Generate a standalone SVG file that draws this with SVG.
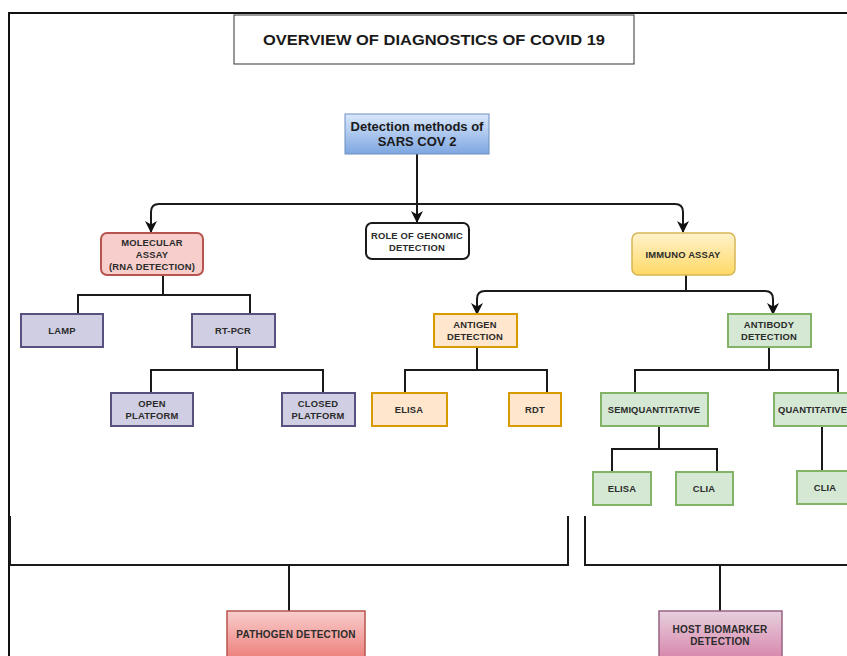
<svg xmlns="http://www.w3.org/2000/svg" width="847" height="656" viewBox="0 0 847 656">
<defs>
<linearGradient id="gBlue" x1="0" y1="0" x2="0" y2="1"><stop offset="0" stop-color="#dae8fc"/><stop offset="1" stop-color="#7ea6e0"/></linearGradient>
<linearGradient id="gYellow" x1="0" y1="0" x2="0" y2="1"><stop offset="0" stop-color="#fff2cc"/><stop offset="1" stop-color="#ffd966"/></linearGradient>
<linearGradient id="gRed" x1="0" y1="0" x2="0" y2="1"><stop offset="0" stop-color="#f8cecc"/><stop offset="1" stop-color="#ea6b66"/></linearGradient>
<linearGradient id="gPink" x1="0" y1="0" x2="0" y2="1"><stop offset="0" stop-color="#e6d0de"/><stop offset="1" stop-color="#d5739d"/></linearGradient>
<marker id="arr" markerWidth="12" markerHeight="12" refX="11" refY="6" orient="auto" markerUnits="userSpaceOnUse"><path d="M0,0 L12,6 L0,12 L3.5,6 Z" fill="#111"/></marker>
</defs>
<style>
.t{font-family:"Liberation Sans",Arial,sans-serif;font-weight:bold;font-size:9.4px;fill:#2b2b2b;text-anchor:middle;letter-spacing:0.2px}
.c{fill:none;stroke:#1a1a1a;stroke-width:2}
.purple{fill:#d0cee2;stroke:#56517e;stroke-width:2}
.orange{fill:#ffe6cc;stroke:#d79b00;stroke-width:2}
.green{fill:#d5e8d4;stroke:#82b366;stroke-width:2}
</style>
<rect width="847" height="656" fill="#fff"/>
<path d="M9,700 V13 H860" fill="none" stroke="#111" stroke-width="2"/>

<g id="title">
<rect x="234" y="15" width="400" height="49" fill="#fff" stroke="#333" stroke-width="1"/>
<text x="434" y="45" font-family="Liberation Sans,Arial,sans-serif" font-weight="bold" font-size="15" fill="#1a1a1a" text-anchor="middle" textLength="342" lengthAdjust="spacingAndGlyphs">OVERVIEW OF DIAGNOSTICS OF COVID 19</text>
</g>

<g id="connectors">
<path class="c" d="M417,154 V222" marker-end="url(#arr)"/>
<path class="c" d="M417,204 H159 Q151,204 151,212 V232" marker-end="url(#arr)"/>
<path class="c" d="M417,204 H675 Q683,204 683,212 V232" marker-end="url(#arr)"/>
<path class="c" d="M686,275 V291"/>
<path class="c" d="M686,291 H485 Q477,291 477,299 V314" marker-end="url(#arr)"/>
<path class="c" d="M686,291 H765 Q773,291 773,299 V314" marker-end="url(#arr)"/>
<path class="c" d="M163,275 V295 M78,314 V295 H250 V314"/>
<path class="c" d="M237,347 V370 M151,393 V370 H323 V393"/>
<path class="c" d="M477,347 V370 M405,393 V370 H547 V393"/>
<path class="c" d="M769,347 V370 M635,393 V370 H838 V393"/>
<path class="c" d="M659,426 V449 M612,472 V449 H717 V472"/>
<path class="c" d="M822,426 V471"/>
<path class="c" d="M10,516 V565 H568 V516 M289,565 V611"/>
<path class="c" d="M585,516 V565 H860 M720,565 V611"/>
</g>

<g id="detection">
<rect x="345" y="114" width="144" height="40" fill="url(#gBlue)" stroke="#6c8ebf" stroke-width="1"/>
<text x="417" y="131" font-family="Liberation Sans,Arial,sans-serif" font-weight="bold" font-size="13" fill="#1a1a1a" text-anchor="middle">Detection methods of</text>
<text x="417" y="146" font-family="Liberation Sans,Arial,sans-serif" font-weight="bold" font-size="13" fill="#1a1a1a" text-anchor="middle">SARS COV 2</text>
</g>

<g id="molecular">
<rect x="101" y="233" width="102" height="42" rx="6" fill="#f8cecc" stroke="#b85450" stroke-width="2"/>
<text class="t" x="152" y="246">MOLECULAR</text>
<text class="t" x="152" y="258">ASSAY</text>
<text class="t" x="152" y="270">(RNA DETECTION)</text>
</g>

<g id="role">
<rect x="366" y="223" width="103" height="36" rx="6" fill="#fff" stroke="#1a1a1a" stroke-width="2"/>
<text class="t" x="417" y="239">ROLE OF GENOMIC</text>
<text class="t" x="417" y="251">DETECTION</text>
</g>

<g id="immuno">
<rect x="632" y="233" width="103" height="42" rx="6" fill="url(#gYellow)" stroke="#d6b656" stroke-width="1.5"/>
<text class="t" x="683" y="258">IMMUNO ASSAY</text>
</g>

<g id="lamp"><rect class="purple" x="21" y="314" width="82" height="33"/><text class="t" x="62" y="334">LAMP</text></g>
<g id="rtpcr"><rect class="purple" x="192" y="314" width="83" height="33"/><text class="t" x="233" y="334">RT-PCR</text></g>
<g id="open"><rect class="purple" x="111" y="393" width="82" height="33"/><text class="t" x="152" y="407">OPEN</text><text class="t" x="152" y="419">PLATFORM</text></g>
<g id="closed"><rect class="purple" x="282" y="393" width="73" height="33"/><text class="t" x="318" y="407">CLOSED</text><text class="t" x="318" y="419">PLATFORM</text></g>

<g id="antigen"><rect class="orange" x="434" y="314" width="83" height="33"/><text class="t" x="475" y="328">ANTIGEN</text><text class="t" x="475" y="340">DETECTION</text></g>
<g id="elisa1"><rect class="orange" x="372" y="393" width="75" height="33"/><text class="t" x="409" y="413">ELISA</text></g>
<g id="rdt"><rect class="orange" x="509" y="393" width="52" height="33"/><text class="t" x="535" y="413">RDT</text></g>

<g id="antibody"><rect class="green" x="728" y="314" width="83" height="33"/><text class="t" x="769" y="328">ANTIBODY</text><text class="t" x="769" y="340">DETECTION</text></g>
<g id="semi"><rect class="green" x="601" y="393" width="107" height="33"/><text class="t" x="654" y="413" style="letter-spacing:0.1px">SEMIQUANTITATIVE</text></g>
<g id="quant"><rect class="green" x="774" y="393" width="90" height="33"/><text class="t" x="778" y="413" style="text-anchor:start;letter-spacing:0.1px">QUANTITATIVE</text></g>
<g id="elisa2"><rect class="green" x="593" y="472" width="58" height="33"/><text class="t" x="622" y="492">ELISA</text></g>
<g id="clia1"><rect class="green" x="676" y="472" width="57" height="33"/><text class="t" x="704" y="492">CLIA</text></g>
<g id="clia2"><rect class="green" x="797" y="471" width="56" height="33"/><text class="t" x="825" y="491">CLIA</text></g>

<g id="pathogen">
<rect x="227" y="611" width="138" height="60" fill="url(#gRed)" stroke="#b85450" stroke-width="1.5"/>
<text class="t" x="296" y="638" style="font-size:10px;letter-spacing:0.2px">PATHOGEN DETECTION</text>
</g>
<g id="host">
<rect x="659" y="611" width="123" height="60" fill="url(#gPink)" stroke="#996185" stroke-width="1.5"/>
<text class="t" x="720" y="633" style="font-size:10px;letter-spacing:0.2px">HOST BIOMARKER</text>
<text class="t" x="720" y="645" style="font-size:10px;letter-spacing:0.2px">DETECTION</text>
</g>
</svg>
